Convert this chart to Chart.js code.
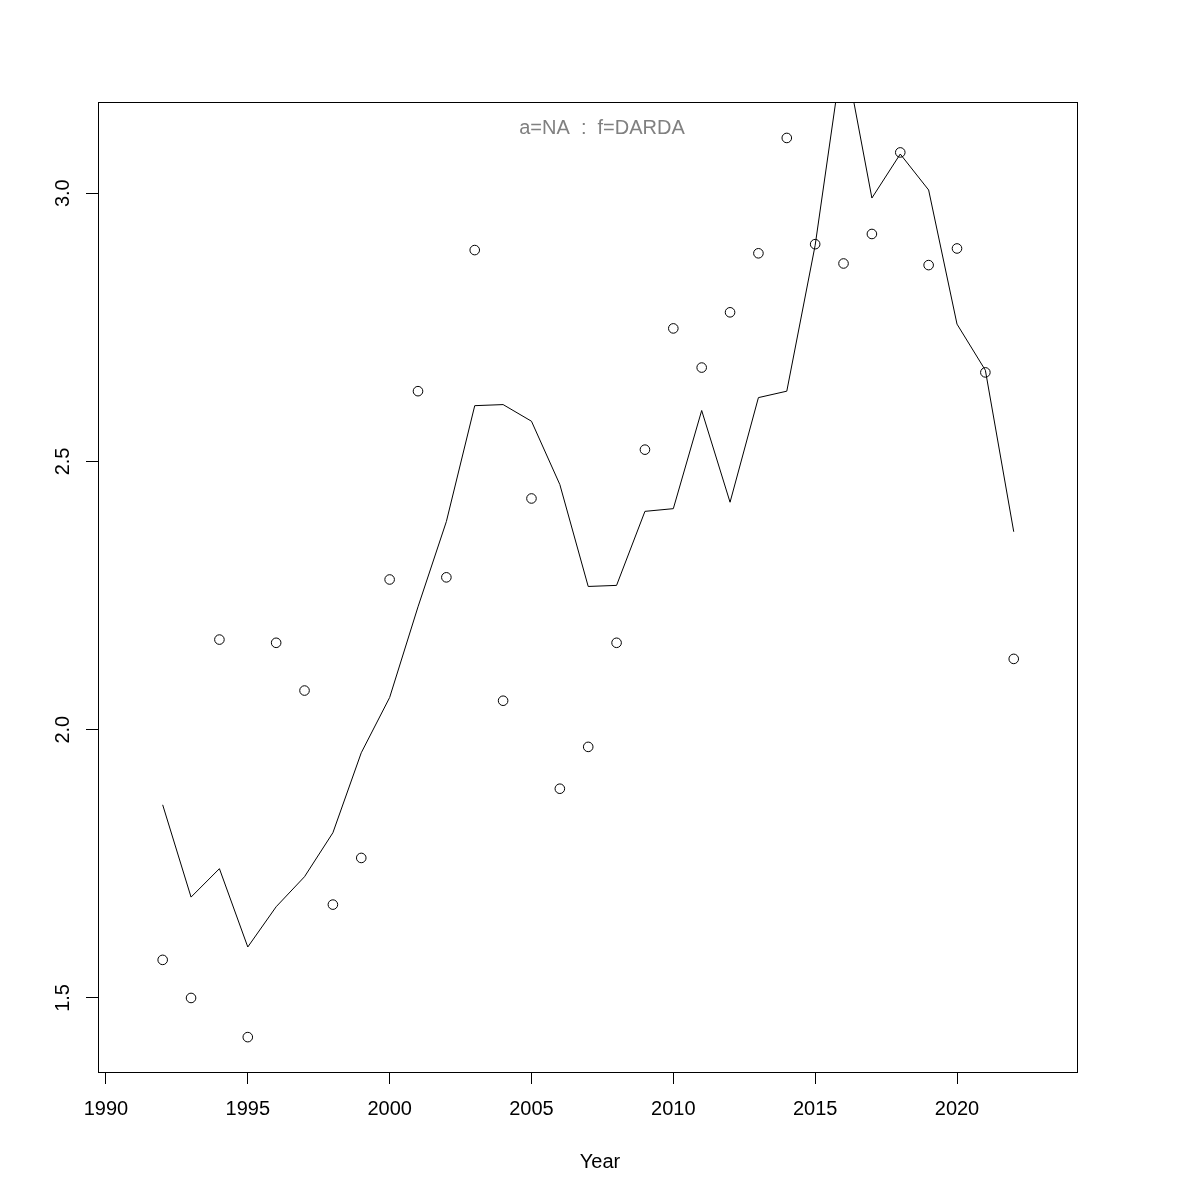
<!DOCTYPE html>
<html>
<head>
<meta charset="utf-8">
<script src="https://cdn.jsdelivr.net/npm/chart.js@4.4.1/dist/chart.umd.min.js"></script>
<style>
  html, body { margin: 0; padding: 0; background: #ffffff; }
  #wrap { width: 1200px; height: 1200px; }
</style>
</head>
<body>
<div id="wrap"><canvas id="c" width="1200" height="1200"></canvas></div>
<script>
// ---- data ----
const years = [1992,1993,1994,1995,1996,1997,1998,1999,2000,2001,2002,2003,2004,2005,2006,2007,2008,2009,2010,2011,2012,2013,2014,2015,2016,2017,2018,2019,2020,2021,2022];
const observed = [1.571,1.500,2.168,1.427,2.162,2.073,1.674,1.761,2.280,2.631,2.284,2.894,2.054,2.431,1.890,1.968,2.162,2.522,2.748,2.675,2.778,2.888,3.103,2.905,2.869,2.924,3.076,2.866,2.897,2.666,2.132];
const fitted = [1.860,1.688,1.741,1.595,1.670,1.726,1.808,1.957,2.060,2.229,2.388,2.604,2.606,2.575,2.457,2.267,2.269,2.407,2.412,2.595,2.424,2.619,2.631,2.903,3.272,2.991,3.073,3.006,2.756,2.670,2.369];
const xTicks = [1990,1995,2000,2005,2010,2015,2020];
const yTicks = [1.5,2.0,2.5,3.0];
const yTickLabels = ["1.5","2.0","2.5","3.0"];
const plotTitle = "a=NA  :  f=DARDA";
const xTitle = "Year";
const xRange = [1989.72, 2024.23];
const yRange = [1.362, 3.170];

const FONT = "'Liberation Sans', Arial, Helvetica, sans-serif";
const FS = 20;

const rPlot = {
  id: 'rPlot',
  afterDraw(chart) {
    const ctx = chart.ctx;
    const a = chart.chartArea;
    const ys = chart.scales.y;
    ctx.save();
    // box
    ctx.strokeStyle = '#000';
    ctx.lineWidth = 1;
    ctx.strokeRect(Math.round(a.left) + 0.5, Math.round(a.top) + 0.5,
                   Math.round(a.right - a.left), Math.round(a.bottom - a.top));
    // rotated y tick labels
    ctx.fillStyle = '#000';
    ctx.font = FS + 'px ' + FONT;
    ctx.textAlign = 'center';
    ctx.textBaseline = 'middle';
    yTicks.forEach((v, i) => {
      const py = ys.getPixelForValue(v);
      ctx.save();
      ctx.translate(63, py);
      ctx.rotate(-Math.PI / 2);
      ctx.fillText(yTickLabels[i], 0, 0);
      ctx.restore();
    });
    // x axis title
    ctx.fillText(xTitle, 600, 1162);
    // title inside plot
    ctx.fillStyle = '#808080';
    ctx.fillText(plotTitle, 602, 128);
    ctx.restore();
  }
};

new Chart(document.getElementById('c'), {
  type: 'scatter',
  data: {
    datasets: [
      {
        type: 'line',
        label: 'fitted',
        data: years.map((y, i) => ({x: y, y: fitted[i]})),
        borderColor: '#000',
        borderWidth: 1,
        pointRadius: 0,
        fill: false,
        tension: 0
      },
      {
        label: 'observed',
        data: years.map((y, i) => ({x: y, y: observed[i]})),
        borderColor: '#000',
        backgroundColor: 'rgba(0,0,0,0)',
        borderWidth: 1,
        pointRadius: 4.8,
        pointStyle: 'circle'
      }
    ]
  },
  options: {
    responsive: false,
    animation: false,
    devicePixelRatio: 1,
    layout: { padding: { left: 0, right: 123, top: 102, bottom: 0 } },
    plugins: { legend: { display: false }, tooltip: { enabled: false }, title: { display: false } },
    scales: {
      x: {
        type: 'linear',
        min: xRange[0], max: xRange[1],
        afterBuildTicks: (s) => { s.ticks = xTicks.map(v => ({value: v})); },
        afterFit: (s) => { s.height = 128; },
        grid: { display: true, drawOnChartArea: false, drawTicks: true, tickLength: 12, color: '#000', lineWidth: 1 },
        border: { display: true, color: '#000', width: 1 },
        ticks: { color: '#000', font: { family: FONT, size: FS }, padding: 13, maxRotation: 0, minRotation: 0,
                 callback: (v) => String(v) },
        title: { display: false }
      },
      y: {
        type: 'linear',
        min: yRange[0], max: yRange[1],
        afterBuildTicks: (s) => { s.ticks = yTicks.map(v => ({value: v})); },
        afterFit: (s) => { s.width = 98; },
        grid: { display: true, drawOnChartArea: false, drawTicks: true, tickLength: 12, color: '#000', lineWidth: 1 },
        border: { display: true, color: '#000', width: 1 },
        ticks: { display: false }
      }
    }
  },
  plugins: [rPlot]
});
</script>
</body>
</html>
